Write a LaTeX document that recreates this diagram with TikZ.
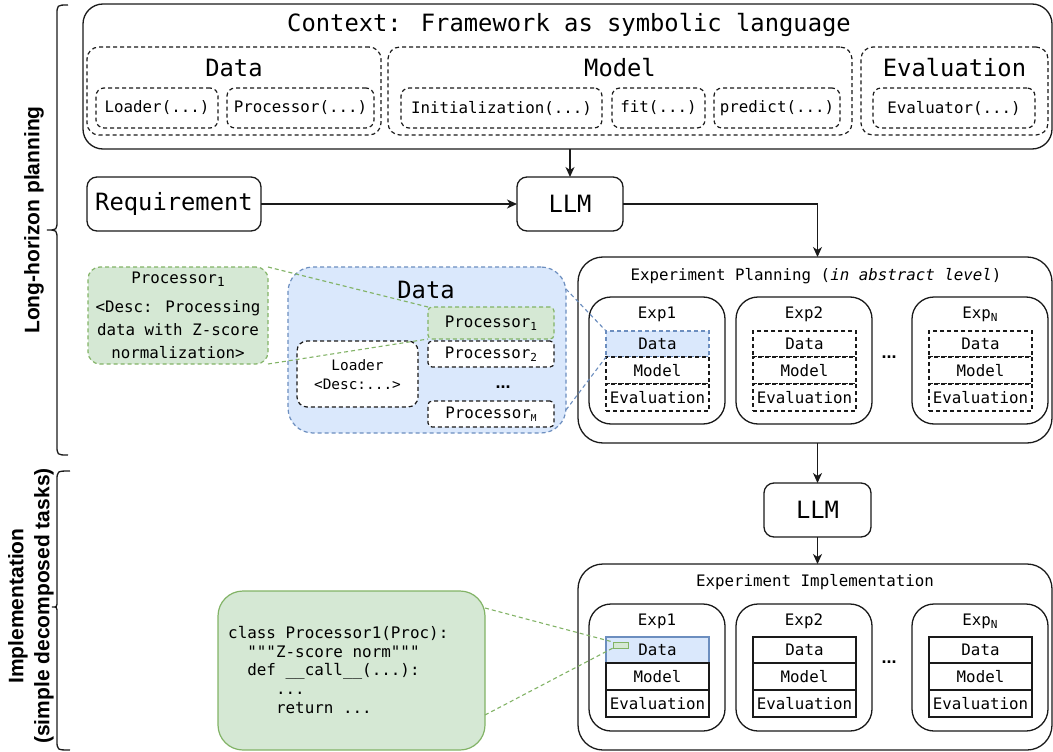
\documentclass[tikz,border=0pt]{standalone}
\usepackage{fontspec}
\setmainfont{Liberation Sans}
\newfontfamily\monofont{DejaVu Sans Mono}
\usetikzlibrary{arrows.meta}

\definecolor{ink}{HTML}{1A1A1A}
\definecolor{gfill}{HTML}{D5E8D4}
\definecolor{gline}{HTML}{82B366}
\definecolor{bfill}{HTML}{DAE8FC}
\definecolor{bline}{HTML}{6C8EBF}

\newcommand\bigmono{\monofont\fontsize{23.8}{28}\selectfont}
\newcommand\smallmono{\monofont\fontsize{15.8}{19}\selectfont}
\newcommand\loadermono{\monofont\fontsize{14.4}{20}\selectfont}
\newcommand\sidefont{\bfseries\fontsize{21}{26}\selectfont}
\newcommand\lowsub[2][0.7]{\raisebox{-0.35ex}{\scalebox{#1}{#2}}}

% box given by its corners: name, style, x0, y0, x1, y1, text
\newcommand\boxat[7]{\node[#2, anchor=north west, inner sep=0pt, outer sep=0pt,
  minimum width=#5-#3, minimum height=#6-#4] (#1) at (#3,#4) {#7};}

\tikzset{
  frame/.style={draw=ink, line width=1.3pt, fill=white, rounded corners=#1},
  frame/.default=10pt,
  dframe/.style={draw=ink, line width=1.2pt, dash pattern=on 4pt off 3pt, rounded corners=#1},
  dframe/.default=10pt,
  gframe/.style={draw=gline, fill=gfill, line width=1.2pt, dash pattern=on 4pt off 3pt, rounded corners=#1},
  bframe/.style={draw=bline, fill=bfill, line width=1.2pt, dash pattern=on 4pt off 3pt, rounded corners=#1},
  cell/.style={draw=ink, line width=1.3pt, fill=white, font=\smallmono},
  dcell/.style={draw=ink, line width=1.2pt, dash pattern=on 4pt off 3pt, fill=white, font=\smallmono},
  big/.style={font=\bigmono, inner sep=0pt},
  small/.style={font=\smallmono, inner sep=0pt},
  dots/.style={font=\bfseries\fontsize{18}{20}\selectfont, inner sep=0pt},
  arr/.style={draw=ink, line width=1.3pt, -{Stealth[length=10pt,width=9pt,inset=3pt]}},
  glink/.style={draw=gline, line width=1.1pt, dash pattern=on 4pt off 3pt},
  blink/.style={draw=bline, line width=1.1pt, dash pattern=on 4pt off 3pt},
  brace/.style={draw=ink, line width=1.3pt},
}

\begin{document}
\begin{tikzpicture}[x=1pt, y=-1pt]
\useasboundingbox (0,0) rectangle (1053,752);

% ---------- side braces and labels ----------
\draw[brace] (68,5) .. controls (57,5) and (57,5) .. (57,15) -- (57,220)
  .. controls (57,230) and (57,230) .. (47,230)
  .. controls (57,230) and (57,230) .. (57,240) -- (57,445)
  .. controls (57,455) and (57,455) .. (68,455);
\draw[brace] (70,471) .. controls (57,471) and (57,471) .. (57,481) -- (57,601)
  .. controls (57,607) and (57,607) .. (52,607)
  .. controls (57,607) and (57,607) .. (57,613) -- (57,740)
  .. controls (57,750) and (57,750) .. (70,750);
\node[rotate=90, font=\sidefont, inner sep=0pt] (planLabel) at (34,220) {Long-horizon planning};
\node[rotate=90, font=\sidefont, align=center, inner sep=0pt] (implLabel) at (31,606)
  {Implementation\\(simple decomposed tasks)};

% ---------- context: framework as symbolic language ----------
\boxat{ctx}{frame=20pt}{83}{4}{1052}{149}{}
\node[big] (ctxTitle) at (569,25) {Context: Framework as symbolic language};
\boxat{ctxData}{dframe=12pt}{87}{47}{381}{135}{}
\boxat{ctxModel}{dframe=12pt}{388}{47}{852}{135}{}
\boxat{ctxEval}{dframe=12pt}{861}{47}{1048}{135}{}
\node[big] (ctxDataT) at (234,68) {Data};
\node[big] (ctxModelT) at (620,68) {Model};
\node[big] (ctxEvalT) at (954.5,68) {Evaluation};
\boxat{fLoader}{dframe=8pt, font=\smallmono}{96}{88}{218}{128}{Loader(...)}
\boxat{fProc}{dframe=8pt, font=\smallmono}{227}{88}{374}{128}{Processor(...)}
\boxat{fInit}{dframe=8pt, font=\smallmono}{401}{88}{602}{128}{Initialization(...)}
\boxat{fFit}{dframe=8pt, font=\smallmono}{612}{88}{705}{128}{fit(...)}
\boxat{fPred}{dframe=8pt, font=\smallmono}{714}{88}{840}{128}{predict(...)}
\boxat{fEval}{dframe=8pt, font=\smallmono}{873}{88}{1035}{128}{Evaluator(...)}

% ---------- requirement and first LLM ----------
\boxat{req}{frame=10pt, font=\bigmono}{87}{177}{261}{231}{Requirement}
\boxat{llmA}{frame=10pt, font=\bigmono}{517}{177}{623}{231}{LLM}

% ---------- experiment planning ----------
\boxat{plan}{frame=25pt}{578}{257}{1052}{443}{}
\node[small] (planTitle) at (816,276) {Experiment Planning (\textit{in abstract level})};

\boxat{pExpA}{frame=22pt}{589}{297}{725}{424}{}
\boxat{pExpB}{frame=22pt}{736}{297}{872}{424}{}
\boxat{pExpC}{frame=22pt}{912}{297}{1048}{424}{}
\node[small] (pExpAT) at (657,314) {Exp1};
\node[small] (pExpBT) at (804,314) {Exp2};
\node[small] (pExpCT) at (980,314) {Exp\lowsub{N}};

\boxat{pDataA}{bframe=0pt, font=\smallmono}{606}{331}{709}{357}{Data}
\boxat{pModelA}{dcell}{606}{357}{709}{384}{Model}
\boxat{pEvalA}{dcell}{606}{384}{709}{411}{Evaluation}
\boxat{pDataB}{dcell}{753}{331}{856}{357}{Data}
\boxat{pModelB}{dcell}{753}{357}{856}{384}{Model}
\boxat{pEvalB}{dcell}{753}{384}{856}{411}{Evaluation}
\boxat{pDataC}{dcell}{929}{331}{1032}{357}{Data}
\boxat{pModelC}{dcell}{929}{357}{1032}{384}{Model}
\boxat{pEvalC}{dcell}{929}{384}{1032}{411}{Evaluation}
\node[dots] (pDots) at (889,357) {...};

% ---------- data module detail ----------
\boxat{dataPanel}{bframe=25pt}{288}{267}{566}{433}{}
\node[big] (dataPanelT) at (426,290) {Data};
\boxat{procA}{gframe=4pt, font=\smallmono}{428}{307}{554}{339}{Processor\lowsub{1}}
\boxat{procB}{dframe=4pt, fill=white, font=\smallmono}{428}{341}{554}{367}{Processor\lowsub{2}}
\node[dots] (procDots) at (503,387) {...};
\boxat{procM}{dframe=4pt, fill=white, font=\smallmono}{428}{401}{554}{427}{Processor\lowsub[0.6]{M}}
\boxat{loader}{dframe=10pt, fill=white}{297}{341}{418}{407}{}
\node[font=\loadermono, align=center, inner sep=0pt] (loaderT) at (357.5,375) {Loader\\[-1pt]<Desc:...>};

\boxat{desc}{gframe=12pt}{88}{267}{268}{364}{}
\node[small] (descT) at (178,279) {Processor\lowsub[0.8]{1}};
\node[font=\monofont\fontsize{15.8}{23}\selectfont, align=center, inner sep=0pt] (descBody) at (178,330)
  {<Desc: Processing\\data with Z-score\\normalization>};

\draw[glink] (desc.north east) -- (procA.north west);
\draw[glink] (desc.south east) -- (procA.south west);
\draw[blink] ([yshift=-22pt]dataPanel.north east) -- (pDataA.north west);
\draw[blink] ([yshift=23pt]dataPanel.south east) -- (pDataA.south west);

% ---------- second LLM and implementation ----------
\boxat{llmB}{frame=10pt, font=\bigmono}{764}{483}{871}{537}{LLM}
\boxat{impl}{frame=25pt}{578}{564}{1052}{750}{}
\node[small] (implTitle) at (815,582) {Experiment Implementation};

\boxat{iExpA}{frame=22pt}{589}{604}{725}{731}{}
\boxat{iExpB}{frame=22pt}{736}{604}{872}{731}{}
\boxat{iExpC}{frame=22pt}{912}{604}{1048}{731}{}
\node[small] (iExpAT) at (657,621) {Exp1};
\node[small] (iExpBT) at (804,621) {Exp2};
\node[small] (iExpCT) at (980,621) {Exp\lowsub{N}};

\boxat{iDataA}{draw=bline, fill=bfill, line width=1.3pt, font=\smallmono}{606}{637}{709}{663}{Data}
\boxat{iModelA}{cell}{606}{663}{709}{690}{Model}
\boxat{iEvalA}{cell}{606}{690}{709}{717}{Evaluation}
\boxat{iDataB}{cell}{753}{637}{856}{663}{Data}
\boxat{iModelB}{cell}{753}{663}{856}{690}{Model}
\boxat{iEvalB}{cell}{753}{690}{856}{717}{Evaluation}
\boxat{iDataC}{cell}{929}{637}{1032}{663}{Data}
\boxat{iModelC}{cell}{929}{663}{1032}{690}{Model}
\boxat{iEvalC}{cell}{929}{690}{1032}{717}{Evaluation}
\node[dots] (iDots) at (889,662) {...};
\boxat{icon}{draw=gline, fill=gfill, line width=0.9pt}{613}{642}{628}{648}{}

\boxat{code}{draw=gline, fill=gfill, line width=1.2pt, rounded corners=25pt}{218}{591}{485}{750}{}
\node[font=\monofont\fontsize{15.9}{18.8}\selectfont, align=left, anchor=west, inner sep=0pt] (codeT) at (228,670)
  {class Processor1(Proc):\\
   \phantom{xx}"""Z-score norm"""\\
   \phantom{xx}def \_\_call\_\_(...):\\
   \phantom{xxxxx}...\\
   \phantom{xxxxx}return ...};

\draw[glink] ([yshift=-17pt]code.north east) -- (icon.north west);
\draw[glink] ([yshift=35pt]code.south east) -- (icon.south west);

% ---------- flow arrows ----------
\draw[arr] (llmA.north |- ctx.south) -- (llmA.north);
\draw[arr] (req.east) -- (llmA.west);
\draw[arr] (llmA.east) -| (llmB.north |- plan.north);
\draw[arr] (llmB.north |- plan.south) -- (llmB.north);
\draw[arr] (llmB.south) -- (llmB.south |- impl.north);
\end{tikzpicture}
\end{document}
